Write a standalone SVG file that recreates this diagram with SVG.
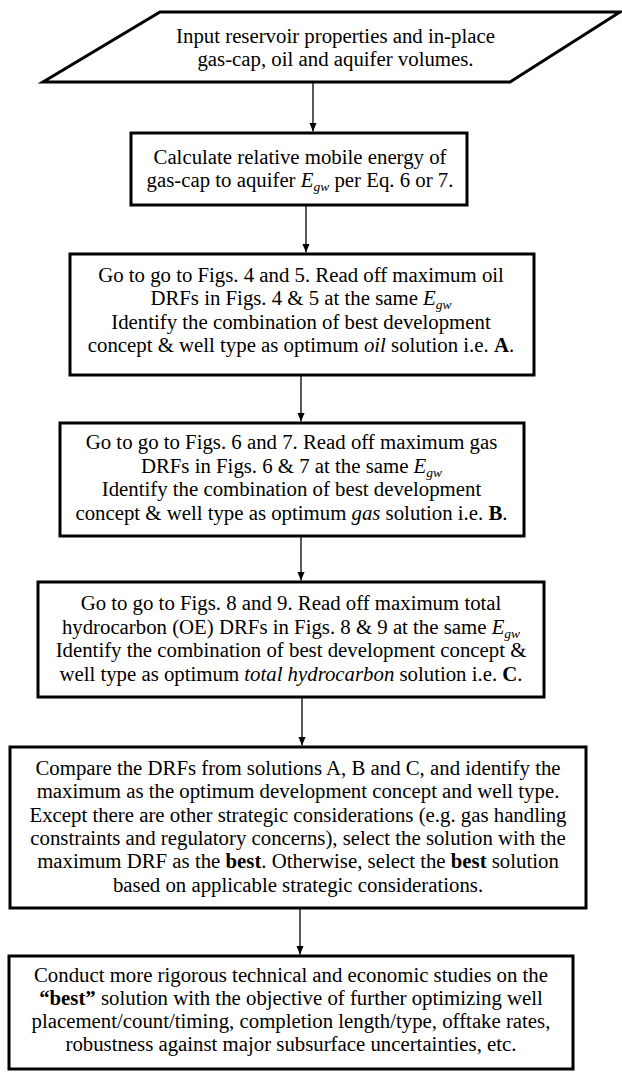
<svg xmlns="http://www.w3.org/2000/svg" width="622" height="1073" viewBox="0 0 622 1073">
<style>
.shape{fill:#fff;stroke:#000;stroke-width:3;stroke-linejoin:miter}
.t{font-family:"Liberation Serif","Times New Roman","DejaVu Serif",serif;font-size:20.8px;fill:#000;text-anchor:middle}
.i{font-style:italic}
.b{font-weight:bold}
.sub{font-style:italic;font-size:13.5px}
.conn{stroke:#000;stroke-width:1.3;fill:none}
</style>
<defs>
<marker id="ah" markerUnits="userSpaceOnUse" markerWidth="9" markerHeight="8" refX="9" refY="3.75" orient="auto">
<path d="M0,0 L9,3.75 L0,7.5 z" fill="#000"/>
</marker>
</defs>
<rect width="622" height="1073" fill="#fff"/>
<g id="connectors">
<line class="conn" x1="313" y1="82" x2="313" y2="131.5" marker-end="url(#ah)"/>
<line class="conn" x1="306" y1="205" x2="306" y2="252.5" marker-end="url(#ah)"/>
<line class="conn" x1="301" y1="375" x2="301" y2="421.5" marker-end="url(#ah)"/>
<line class="conn" x1="301" y1="536" x2="301" y2="580.5" marker-end="url(#ah)"/>
<line class="conn" x1="302" y1="697" x2="302" y2="745.5" marker-end="url(#ah)"/>
<line class="conn" x1="300" y1="908" x2="300" y2="954.5" marker-end="url(#ah)"/>
</g>
<g id="input">
<polygon class="shape" points="160,12 620,12 510,82 43,82"/>
<text class="t" x="335.5" y="43">Input reservoir properties and in-place</text>
<text class="t" x="335.5" y="66">gas-cap, oil and aquifer volumes.</text>
</g>
<g id="calc">
<rect class="shape" x="131" y="133" width="336" height="72"/>
<text class="t" x="300" y="164">Calculate relative mobile energy of</text>
<text class="t" x="300" y="187">gas-cap to aquifer <tspan class="i">E</tspan><tspan class="sub" dy="4">gw</tspan><tspan dy="-4"> per Eq. 6 or 7.</tspan></text>
</g>
<g id="oil">
<rect class="shape" x="70" y="254" width="464" height="121"/>
<text class="t" x="301" y="282">Go to go to Figs. 4 and 5. Read off maximum oil</text>
<text class="t" x="301" y="305.3">DRFs in Figs. 4 &amp; 5 at the same <tspan class="i">E</tspan><tspan class="sub" dy="4">gw</tspan></text>
<text class="t" x="301" y="328.6">Identify the combination of best development</text>
<text class="t" x="301" y="352">concept &amp; well type as optimum <tspan class="i">oil</tspan> solution i.e. <tspan class="b">A</tspan>.</text>
</g>
<g id="gas">
<rect class="shape" x="60" y="423" width="464" height="113"/>
<text class="t" x="291.5" y="449">Go to go to Figs. 6 and 7. Read off maximum gas</text>
<text class="t" x="291.5" y="472.5">DRFs in Figs. 6 &amp; 7 at the same <tspan class="i">E</tspan><tspan class="sub" dy="4">gw</tspan></text>
<text class="t" x="291.5" y="496">Identify the combination of best development</text>
<text class="t" x="291.5" y="519.5">concept &amp; well type as optimum <tspan class="i">gas</tspan> solution i.e. <tspan class="b">B</tspan>.</text>
</g>
<g id="total">
<rect class="shape" x="38" y="582" width="506" height="115"/>
<text class="t" x="291" y="610">Go to go to Figs. 8 and 9. Read off maximum total</text>
<text class="t" x="291" y="633.5">hydrocarbon (OE) DRFs in Figs. 8 &amp; 9 at the same <tspan class="i">E</tspan><tspan class="sub" dy="4">gw</tspan></text>
<text class="t" x="291" y="657">Identify the combination of best development concept &amp;</text>
<text class="t" x="291" y="681">well type as optimum <tspan class="i">total hydrocarbon</tspan> solution i.e. <tspan class="b">C</tspan>.</text>
</g>
<g id="compare">
<rect class="shape" x="10" y="747" width="576" height="161"/>
<text class="t" x="298" y="775">Compare the DRFs from solutions A, B and C, and identify the</text>
<text class="t" x="298" y="798">maximum as the optimum development concept and well type.</text>
<text class="t" x="298" y="822">Except there are other strategic considerations (e.g. gas handling</text>
<text class="t" x="298" y="845">constraints and regulatory concerns), select the solution with the</text>
<text class="t" x="298" y="868">maximum DRF as the <tspan class="b">best</tspan>. Otherwise, select the <tspan class="b">best</tspan> solution</text>
<text class="t" x="298" y="892">based on applicable strategic considerations.</text>
</g>
<g id="studies">
<rect class="shape" x="9" y="956" width="564" height="113"/>
<text class="t" x="291" y="982">Conduct more rigorous technical and economic studies on the</text>
<text class="t" x="291" y="1005"><tspan class="b">“best”</tspan> solution with the objective of further optimizing well</text>
<text class="t" x="291" y="1028">placement/count/timing, completion length/type, offtake rates,</text>
<text class="t" x="291" y="1051">robustness against major subsurface uncertainties, etc.</text>
</g>
</svg>
